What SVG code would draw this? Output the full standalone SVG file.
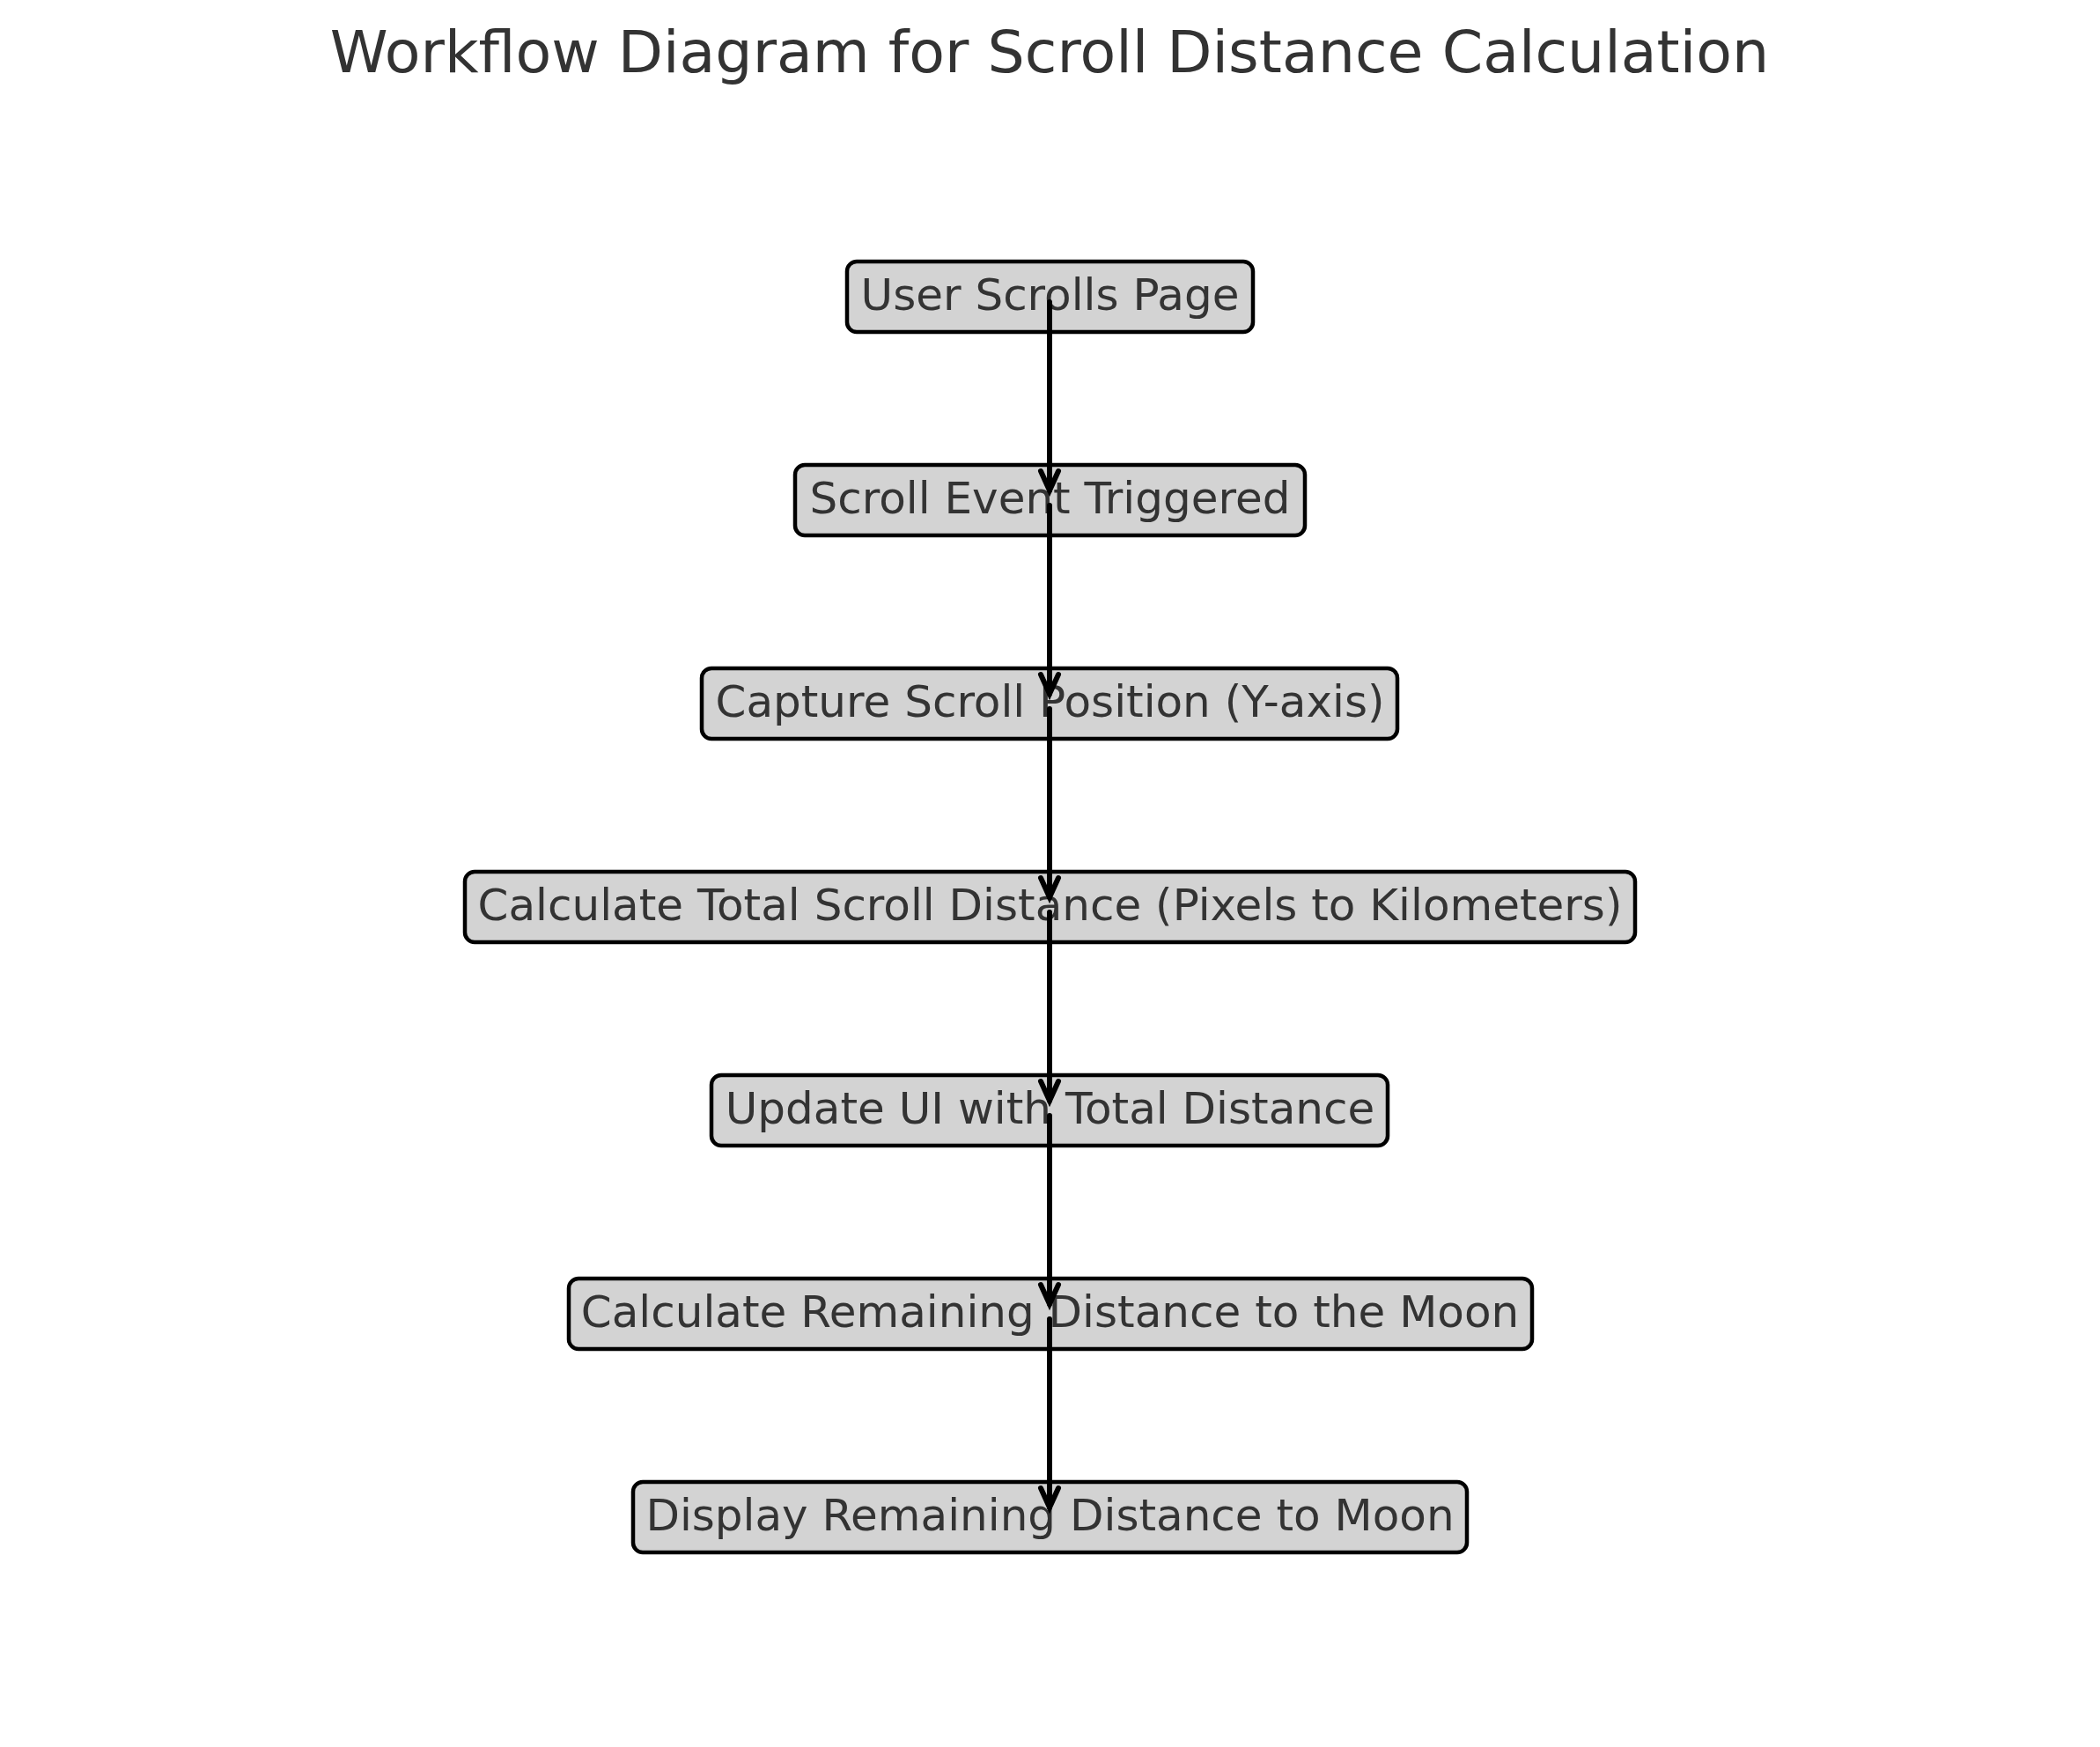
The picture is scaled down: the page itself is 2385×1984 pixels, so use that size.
<svg xmlns="http://www.w3.org/2000/svg" width="2385" height="1984" viewBox="0 0 2385 1984">
<style>
.box{fill:#d3d3d3;stroke:#000;stroke-width:4.5}
.lbl{font-family:"DejaVu Sans",sans-serif;font-size:50px;fill:#333333;text-anchor:middle}
.title{font-family:"DejaVu Sans",sans-serif;font-size:66.6px;fill:#333333;text-anchor:middle}
.edge{stroke:#000;stroke-width:6;fill:none;stroke-linecap:round}
</style>
<defs>
<marker id="ah" markerUnits="userSpaceOnUse" markerWidth="40" markerHeight="40" refX="0" refY="0" viewBox="-30 -20 40 40" orient="auto" overflow="visible">
<path d="M-22,-10 L0,0 L-22,10" fill="none" stroke="#000" stroke-width="6" stroke-linecap="round" stroke-linejoin="miter"/>
</marker>
</defs>
<rect width="2385" height="1984" fill="#fff"/>
<text class="title" x="1192" y="82">Workflow Diagram for Scroll Distance Calculation</text>
<g id="n1"><rect class="box" x="962" y="297" width="461" height="80" rx="11"/><text class="lbl" x="1192.5" y="352">User Scrolls Page</text></g>
<g id="n2"><rect class="box" x="903" y="528" width="579" height="80" rx="11"/><text class="lbl" x="1192.5" y="583">Scroll Event Triggered</text></g>
<g id="n3"><rect class="box" x="797" y="759" width="790" height="80" rx="11"/><text class="lbl" x="1192.5" y="814">Capture Scroll Position (Y-axis)</text></g>
<g id="n4"><rect class="box" x="528" y="990" width="1329" height="80" rx="11"/><text class="lbl" x="1192.5" y="1045">Calculate Total Scroll Distance (Pixels to Kilometers)</text></g>
<g id="n5"><rect class="box" x="808" y="1221" width="768" height="80" rx="11"/><text class="lbl" x="1192.5" y="1276">Update UI with Total Distance</text></g>
<g id="n6"><rect class="box" x="646" y="1452" width="1094" height="80" rx="11"/><text class="lbl" x="1192.5" y="1507">Calculate Remaining Distance to the Moon</text></g>
<g id="n7"><rect class="box" x="719" y="1683" width="947" height="80" rx="11"/><text class="lbl" x="1192.5" y="1738">Display Remaining Distance to Moon</text></g>
<g id="edges">
<path class="edge" d="M1192,343 L1192,557" marker-end="url(#ah)"/>
<path class="edge" d="M1192,574 L1192,788" marker-end="url(#ah)"/>
<path class="edge" d="M1192,805 L1192,1019" marker-end="url(#ah)"/>
<path class="edge" d="M1192,1036 L1192,1250" marker-end="url(#ah)"/>
<path class="edge" d="M1192,1267 L1192,1481" marker-end="url(#ah)"/>
<path class="edge" d="M1192,1498 L1192,1712" marker-end="url(#ah)"/>
</g>
</svg>
